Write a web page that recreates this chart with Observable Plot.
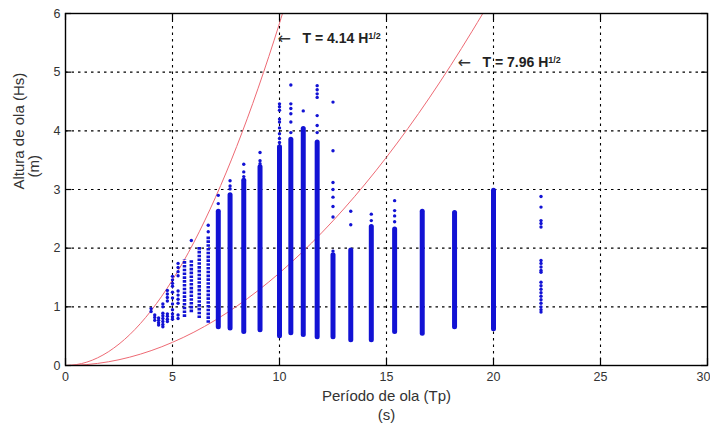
<!DOCTYPE html>
<html><head><meta charset="utf-8">
<script src="https://cdn.jsdelivr.net/npm/d3@7"></script>
<script src="https://cdn.jsdelivr.net/npm/@observablehq/plot@0.6"></script>
<style>
html,body{margin:0;padding:0;background:#fff;}
#chart{width:710px;height:428px;}
</style></head><body><div id="chart"></div>
<script>
// ---- axis ticks ----
const xTicks = [0, 5, 10, 15, 20, 25, 30];
const yTicks = [0, 1, 2, 3, 4, 5, 6];

// ---- dense columns of records (Tp bin, Hs min, Hs max) ----
const densePeriods = [7.14, 7.69, 8.33, 9.09, 10.0, 10.53, 11.11, 11.76, 12.5, 13.33, 14.29, 15.38, 16.67, 18.18, 20.0];
const denseLow     = [0.65, 0.63, 0.57, 0.60, 0.50, 0.55, 0.52, 0.48, 0.48, 0.43, 0.43, 0.57, 0.54, 0.65, 0.62];
const denseHigh    = [2.62, 2.90, 3.15, 3.38, 3.72, 3.85, 4.03, 3.80, 1.88, 1.96, 2.36, 2.32, 2.62, 2.60, 2.98];

// ---- medium-density columns ----
const mediumPeriods = [5.56, 5.88, 6.25, 6.67];
const mediumLow     = [0.82, 0.90, 0.80, 0.72];
const mediumHigh    = [1.80, 1.80, 2.02, 2.20];

// ---- isolated records (Tp bin, list of Hs) ----
const sparsePeriods = [4.0, 4.17, 4.35, 4.55, 4.76, 5.0, 5.26, 5.88, 6.67, 7.14, 7.69, 8.33, 9.09, 10.0, 10.53, 11.11, 11.76, 12.5, 13.33, 14.29, 15.38, 22.22];
const sparseHeights = [
  [0.97, 0.92],
  [0.86, 0.82, 0.77],
  [0.81, 0.77, 0.73, 0.69],
  [1.05, 1.00, 0.89, 0.85, 0.80, 0.75, 0.70, 0.66],
  [1.28, 1.22, 1.16, 1.10, 0.88, 0.84, 0.79, 0.75],
  [1.52, 1.46, 1.40, 1.35, 1.25, 1.15, 1.05, 0.95, 0.88, 0.83, 0.79],
  [1.74, 1.67, 1.60, 1.53, 1.27, 1.20, 1.13, 1.06, 0.86, 0.80],
  [2.13],
  [2.39, 2.28],
  [2.90, 2.76],
  [3.15, 3.06, 3.01],
  [3.43, 3.30, 3.22],
  [3.63, 3.49, 3.44],
  [4.46, 4.41, 4.35, 4.20, 4.15, 4.05, 3.95, 3.87, 3.80],
  [4.78, 4.46, 4.38, 4.29, 4.15, 3.97],
  [4.34],
  [4.77, 4.70, 4.63, 4.57, 4.26, 4.09, 3.97],
  [4.49, 3.66, 3.12, 3.00, 2.87, 2.71, 2.53, 1.95],
  [2.63, 2.40],
  [2.58, 2.47],
  [2.81, 2.64, 2.55, 2.45],
  [2.88, 2.70, 2.47, 2.42, 2.36, 1.79, 1.74, 1.68, 1.62, 1.59, 1.42, 1.36, 1.30, 1.24, 1.18, 1.12, 1.06, 1.00, 0.95, 0.91]
];

// ---- limit curves ----
const curveA_T = [0, 0.5, 1, 1.5, 2, 2.5, 3, 3.5, 4, 4.5, 5, 5.5, 6, 6.5, 7, 7.5, 8, 8.5, 9, 9.5, 10, 10.14];
const curveA_H = [0, 0.015, 0.058, 0.131, 0.233, 0.365, 0.525, 0.715, 0.934, 1.182, 1.459, 1.765, 2.100, 2.465, 2.859, 3.282, 3.734, 4.215, 4.726, 5.266, 5.834, 6.0];
const curveB_T = [0, 1, 2, 3, 4, 5, 6, 7, 8, 9, 10, 11, 12, 13, 14, 15, 16, 17, 18, 19, 19.5];
const curveB_H = [0, 0.016, 0.063, 0.142, 0.253, 0.395, 0.568, 0.773, 1.010, 1.278, 1.578, 1.910, 2.273, 2.667, 3.093, 3.551, 4.040, 4.561, 5.114, 5.698, 6.0];

// ---- annotations ----
const annoX = [9.91, 18.32];
const annoY = [5.57, 5.16];
const annoLabel = ["T = 4.14 H", "T = 7.96 H"];
const annoSup = ["1/2", "1/2"];

// ---- labels ----
const xLabel1 = "Período de ola (Tp)";
const xLabel2 = "(s)";
const yLabel1 = "Altura de ola (Hs)";
const yLabel2 = "(m)";

// ---- build tables ----
const denseRows = densePeriods.map((t, i) => ({t, lo: denseLow[i], hi: denseHigh[i]}));
const mediumRows = mediumPeriods.map((t, i) => ({t, lo: mediumLow[i], hi: mediumHigh[i]}));
const sparseRows = sparsePeriods.flatMap((t, i) => sparseHeights[i].map(h => ({t, h})));
const curveA = curveA_T.map((t, i) => ({t, h: curveA_H[i]}));
const curveB = curveB_T.map((t, i) => ({t, h: curveB_H[i]}));
const annos = annoX.map((x, i) => ({x, y: annoY[i], label: annoLabel[i], sup: annoSup[i]}));

const BLUE = "#1212d4";
const RED = "#ee6a74";
const tickLenY = 0.12, tickLenX = 0.28;

const chart = Plot.plot({
  width: 710, height: 428,
  marginLeft: 65, marginRight: 3, marginTop: 13, marginBottom: 63,
  x: {domain: [0, 30]},
  y: {domain: [0, 6]},
  style: {fontFamily: "'Liberation Sans', Arial, Helvetica, sans-serif", background: "white", color: "#333"},
  marks: [
    Plot.ruleX(xTicks.slice(1, -1), {stroke: "black", strokeWidth: 1.1, strokeDasharray: "2.5,4"}),
    Plot.ruleY(yTicks.slice(1, -1), {stroke: "black", strokeWidth: 1.1, strokeDasharray: "2.5,4"}),
    Plot.line(curveA, {x: "t", y: "h", stroke: RED, strokeWidth: 1, curve: "monotone-x"}),
    Plot.line(curveB, {x: "t", y: "h", stroke: RED, strokeWidth: 1, curve: "monotone-x"}),
    Plot.ruleX(mediumRows, {x: "t", y1: "lo", y2: "hi", stroke: BLUE, strokeWidth: 3.5, strokeDasharray: "2.6,1.2"}),
    Plot.ruleX(denseRows, {x: "t", y1: "lo", y2: "hi", stroke: BLUE, strokeWidth: 5, strokeLinecap: "round"}),
    Plot.dot(sparseRows, {x: "t", y: "h", r: 1.7, fill: BLUE, stroke: null}),
    // inward tick marks
    Plot.ruleX(xTicks, {y1: 0, y2: tickLenY, stroke: "black", strokeWidth: 1.2}),
    Plot.ruleX(xTicks, {y1: 6 - tickLenY, y2: 6, stroke: "black", strokeWidth: 1.2}),
    Plot.ruleY(yTicks, {x1: 0, x2: tickLenX, stroke: "black", strokeWidth: 1.2}),
    Plot.ruleY(yTicks, {x1: 30 - tickLenX, x2: 30, stroke: "black", strokeWidth: 1.2}),
    Plot.frame({stroke: "black", strokeWidth: 1.4}),
    Plot.axisX({ticks: xTicks, tickSize: 0, tickPadding: 7, fontSize: 12.5, label: null, tickFormat: d => String(d)}),
    Plot.axisY({ticks: yTicks, tickSize: 0, tickPadding: 5, fontSize: 12.5, label: null, tickFormat: d => String(d)}),
    // annotations
    Plot.text(annos, {x: "x", y: "y", text: () => "\u2190", textAnchor: "start", fontSize: 16, fontFamily: "'DejaVu Sans', sans-serif", fill: "#333"}),
    Plot.text(annos, {x: "x", y: "y", text: "label", dx: 25, textAnchor: "start", fontSize: 14, fontWeight: "bold", fill: "#222"}),
    // axis titles
    Plot.text([xLabel1], {frameAnchor: "bottom", dy: 35, fontSize: 15, fill: "#333"}),
    Plot.text([xLabel2], {frameAnchor: "bottom", dy: 54, fontSize: 15, fill: "#333"}),
    Plot.text([yLabel1], {frameAnchor: "left", dx: -46, rotate: -90, fontSize: 15, fill: "#333"}),
    Plot.text([yLabel2], {frameAnchor: "left", dx: -31, dy: -12, rotate: -90, fontSize: 15, fill: "#333"})
  ]
});

// superscripts for the curve labels
d3.select(chart).selectAll("text").filter(function() {
  return annoLabel.includes(this.textContent);
}).each(function() {
  const i = annoLabel.indexOf(this.textContent);
  d3.select(this).append("tspan").attr("dy", "-0.5em").attr("font-size", "9px").text(annoSup[i]);
});

// keep the last x tick label inside the picture
d3.select(chart).selectAll("text").filter(function() {
  return this.textContent === String(xTicks[xTicks.length - 1]) && this.closest("g[aria-label='x-axis tick label']");
}).attr("dx", -4);

document.getElementById("chart").appendChild(chart);
</script>
</body></html>
